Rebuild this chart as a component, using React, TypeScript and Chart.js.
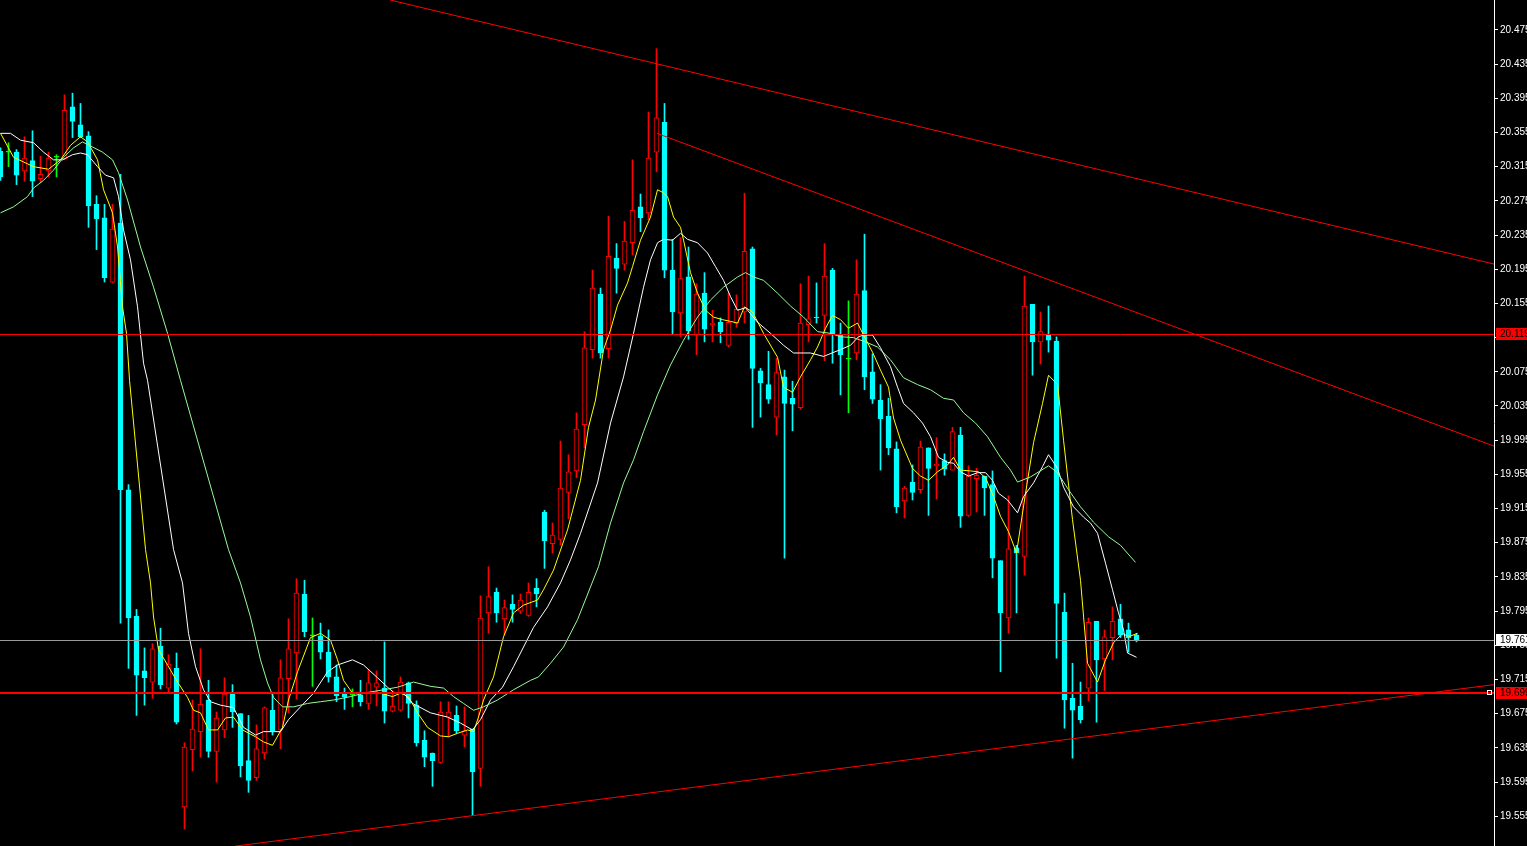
import React, { useEffect, useRef } from 'react';
import { Chart, registerables } from 'chart.js';

Chart.register(...registerables);

// ---- Candle data (bar index = position in array) ----
const opens = [
  20.333, 20.332, 20.332, 20.310, 20.322, 20.301, 20.310, 20.326, 20.324, 20.385,
  20.364, 20.351, 20.271, 20.255, 20.180, 20.249, 19.937, 19.789, 19.725, 19.712,
  19.754, 19.705, 19.728, 19.566, 19.633, 19.654, 19.691, 19.631, 19.656, 19.698,
  19.675, 19.620, 19.600, 19.629, 19.679, 19.656, 19.716, 19.746, 19.815, 19.766,
  19.766, 19.747, 19.718, 19.699, 19.697, 19.697, 19.687, 19.706, 19.705, 19.678,
  19.679, 19.711, 19.685, 19.644, 19.629, 19.618, 19.671, 19.673, 19.650, 19.657,
  19.611, 19.793, 19.817, 19.786, 19.803, 19.795, 19.790, 19.822, 19.911, 19.874,
  19.879, 19.934, 19.959, 20.013, 20.101, 20.166, 20.102, 20.208, 20.201, 20.226,
  20.268, 20.261, 20.332, 20.367, 20.194, 20.144, 20.186, 20.118, 20.167, 20.130,
  20.133, 20.106, 20.132, 20.145, 20.219, 20.076, 20.060, 20.022, 20.069, 20.044,
  20.033, 20.130, 20.139, 20.141, 20.194, 20.119, 20.090, 20.097, 20.170, 20.075,
  20.042, 20.023, 19.985, 19.924, 19.946, 19.937, 19.986, 19.965, 19.971, 19.960,
  20.001, 19.907, 19.950, 19.953, 19.943, 19.854, 19.787, 19.869, 19.859, 20.154,
  20.110, 20.119, 20.111, 19.794, 19.693, 19.684, 19.705, 19.783, 19.739, 19.764,
  19.786, 19.773, 19.767,
];
const highs = [
  20.337, 20.343, 20.335, 20.350, 20.357, 20.327, 20.332, 20.329, 20.399, 20.401,
  20.389, 20.356, 20.281, 20.271, 20.271, 20.306, 19.943, 19.797, 19.752, 19.757,
  19.775, 19.744, 19.746, 19.641, 19.691, 19.751, 19.714, 19.677, 19.717, 19.709,
  19.675, 19.673, 19.662, 19.683, 19.699, 19.738, 19.786, 19.833, 19.831, 19.787,
  19.781, 19.773, 19.732, 19.705, 19.704, 19.714, 19.727, 19.725, 19.759, 19.702,
  19.718, 19.712, 19.690, 19.655, 19.629, 19.689, 19.689, 19.684, 19.683, 19.657,
  19.813, 19.847, 19.822, 19.808, 19.814, 19.815, 19.828, 19.833, 19.913, 19.898,
  19.994, 19.978, 20.027, 20.122, 20.194, 20.173, 20.257, 20.225, 20.251, 20.323,
  20.283, 20.379, 20.453, 20.389, 20.230, 20.232, 20.221, 20.178, 20.191, 20.147,
  20.138, 20.167, 20.165, 20.284, 20.221, 20.079, 20.099, 20.091, 20.077, 20.064,
  20.178, 20.187, 20.179, 20.225, 20.196, 20.132, 20.158, 20.206, 20.236, 20.096,
  20.060, 20.044, 19.993, 19.941, 19.966, 19.994, 19.986, 19.998, 19.979, 20.010,
  20.010, 19.965, 19.962, 19.953, 19.959, 19.854, 19.930, 19.872, 20.187, 20.154,
  20.145, 20.152, 20.116, 19.816, 19.734, 19.712, 19.787, 19.783, 19.773, 19.800,
  19.803, 19.781, 19.769,
];
const lows = [
  20.299, 20.315, 20.294, 20.298, 20.280, 20.296, 20.303, 20.303, 20.323, 20.349,
  20.349, 20.244, 20.218, 20.180, 20.179, 19.781, 19.728, 19.673, 19.685, 19.693,
  19.704, 19.699, 19.663, 19.540, 19.608, 19.624, 19.624, 19.595, 19.647, 19.659,
  19.601, 19.583, 19.597, 19.622, 19.650, 19.634, 19.676, 19.692, 19.765, 19.707,
  19.739, 19.712, 19.689, 19.680, 19.683, 19.684, 19.680, 19.684, 19.664, 19.677,
  19.678, 19.670, 19.637, 19.613, 19.590, 19.617, 19.648, 19.652, 19.636, 19.556,
  19.590, 19.769, 19.782, 19.767, 19.782, 19.792, 19.789, 19.800, 19.845, 19.863,
  19.872, 19.903, 19.951, 19.986, 20.091, 20.091, 20.091, 20.167, 20.194, 20.212,
  20.239, 20.253, 20.309, 20.185, 20.119, 20.116, 20.113, 20.095, 20.110, 20.110,
  20.109, 20.104, 20.127, 20.132, 20.010, 20.022, 20.038, 20.001, 19.857, 20.006,
  20.031, 20.110, 20.132, 20.088, 20.085, 20.048, 20.027, 20.089, 20.054, 20.038,
  19.960, 19.978, 19.910, 19.904, 19.925, 19.933, 19.907, 19.926, 19.954, 19.960,
  19.893, 19.906, 19.911, 19.907, 19.834, 19.724, 19.769, 19.793, 19.837, 20.071,
  20.084, 20.098, 19.740, 19.658, 19.623, 19.664, 19.690, 19.665, 19.702, 19.738,
  19.764, 19.747, 19.759,
];
const closes = [
  20.303, 20.332, 20.305, 20.325, 20.298, 20.306, 20.325, 20.326, 20.381, 20.368,
  20.350, 20.269, 20.254, 20.185, 20.242, 19.937, 19.787, 19.720, 19.717, 19.751,
  19.709, 19.733, 19.665, 19.636, 19.657, 19.686, 19.631, 19.670, 19.698, 19.677,
  19.614, 19.597, 19.634, 19.682, 19.655, 19.717, 19.751, 19.816, 19.771, 19.766,
  19.747, 19.718, 19.696, 19.695, 19.697, 19.689, 19.711, 19.711, 19.678, 19.684,
  19.712, 19.687, 19.641, 19.624, 19.620, 19.677, 19.677, 19.655, 19.655, 19.607,
  19.787, 19.812, 19.793, 19.799, 19.797, 19.808, 19.817, 19.815, 19.877, 19.884,
  19.939, 19.958, 20.008, 20.103, 20.173, 20.097, 20.210, 20.196, 20.228, 20.264,
  20.255, 20.325, 20.372, 20.194, 20.145, 20.184, 20.123, 20.166, 20.125, 20.132,
  20.122, 20.133, 20.148, 20.216, 20.079, 20.062, 20.043, 20.074, 20.038, 20.037,
  20.132, 20.137, 20.138, 20.187, 20.119, 20.095, 20.090, 20.166, 20.069, 20.043,
  20.020, 19.986, 19.917, 19.939, 19.934, 19.987, 19.962, 19.967, 19.961, 20.005,
  19.906, 19.953, 19.954, 19.939, 19.857, 19.793, 19.868, 19.863, 20.152, 20.110,
  20.122, 20.112, 19.804, 19.691, 19.679, 19.668, 19.782, 19.738, 19.765, 19.783,
  19.767, 19.764, 19.761,
];

// ---- Indicator lines: [bar index, price] read at their vertices ----
const yellowLine: [number, number][] = [
  [0, 20.354], [1.63, 20.326], [4.13, 20.315], [6, 20.312], [7.5, 20.323], [8.75, 20.34], [10, 20.35],
  [10.88, 20.344], [12.13, 20.323], [12.88, 20.288], [14, 20.261], [14.63, 20.221], [15.25, 20.151],
  [15.75, 20.12], [16.13, 20.065], [18.13, 19.867], [18.75, 19.828], [19.13, 19.788], [19.75, 19.75],
  [20.88, 19.732], [22.13, 19.712], [23.38, 19.694], [24.13, 19.679], [25, 19.676], [26, 19.656],
  [27.13, 19.656], [28.13, 19.67], [29.13, 19.671], [30.25, 19.656], [31.88, 19.648], [32.88, 19.642],
  [34, 19.638], [35.25, 19.659], [36, 19.691], [37.13, 19.724], [38.75, 19.764], [40, 19.769],
  [41.25, 19.761], [42.13, 19.738], [42.88, 19.714], [44, 19.699], [45.38, 19.699], [47.13, 19.7],
  [49, 19.695], [50, 19.699], [51, 19.695], [52.13, 19.676], [53.38, 19.659], [55, 19.649], [56, 19.648],
  [57.13, 19.652], [58.38, 19.656], [59.13, 19.654], [59.75, 19.671], [60.38, 19.691], [61.63, 19.718],
  [62.88, 19.765], [64.13, 19.793], [65.38, 19.802], [67.13, 19.808], [67.88, 19.82], [69.13, 19.843],
  [70.88, 19.89], [72.5, 19.948], [73.5, 20.01], [74.38, 20.042], [75.38, 20.101], [76.25, 20.124],
  [77.13, 20.153], [78.38, 20.179], [79, 20.198], [80, 20.229], [81.25, 20.256], [82.13, 20.288],
  [82.75, 20.285], [83.38, 20.28], [84.13, 20.256], [85, 20.244], [85.38, 20.229], [86.25, 20.191],
  [87.13, 20.167], [88.13, 20.147], [89.13, 20.139], [90.25, 20.136], [91.25, 20.134], [92.13, 20.132],
  [93, 20.151], [94, 20.145], [95.38, 20.12], [97.13, 20.092], [97.88, 20.057], [99, 20.051],
  [100, 20.069], [101.25, 20.089], [102.13, 20.104], [103.13, 20.126], [104, 20.141], [105, 20.136],
  [106, 20.126], [107.13, 20.132], [107.88, 20.118], [109, 20.098], [110, 20.077], [111, 20.057],
  [111.63, 20.021], [112.5, 19.995], [114, 19.962], [115, 19.953], [116, 19.948], [117.13, 19.958],
  [118.38, 19.966], [119.13, 19.975], [120, 19.96], [121.25, 19.959], [122.25, 19.958], [123.13, 19.951],
  [124.13, 19.929], [125, 19.906], [126, 19.888], [127, 19.863], [128.13, 19.933], [129.13, 19.992],
  [130.25, 20.038], [131, 20.071], [132.13, 20.06], [132.88, 19.995], [134, 19.902], [135, 19.831],
  [135.88, 19.734], [137.13, 19.712], [138.13, 19.738], [139.13, 19.758], [140.25, 19.769], [141, 19.765],
  [142.13, 19.769],
];
const whiteLine: [number, number][] = [
  [0, 20.354], [1.25, 20.354], [2.5, 20.346], [4.13, 20.343], [5.38, 20.332], [6.63, 20.323], [7.75, 20.323],
  [9, 20.329], [10, 20.331], [10.88, 20.329], [12.13, 20.315], [13.13, 20.305], [14.13, 20.302],
  [14.75, 20.28], [15.38, 20.241], [16.25, 20.206], [17.13, 20.151], [17.88, 20.085], [18.38, 20.065],
  [21.63, 19.867], [22.75, 19.828], [23.5, 19.769], [24.38, 19.73], [25.38, 19.703], [26.25, 19.689],
  [27.5, 19.685], [29.13, 19.682], [30.38, 19.659], [31.88, 19.65], [32.88, 19.654], [35, 19.654],
  [36, 19.668], [37.5, 19.683], [39.13, 19.699], [40.88, 19.724], [42.13, 19.732], [44, 19.738],
  [45.38, 19.732], [47.13, 19.717], [48.38, 19.706], [49.13, 19.7], [50.38, 19.699], [51.5, 19.687],
  [53.75, 19.676], [55.88, 19.671], [57.5, 19.664], [59, 19.656], [60, 19.668], [61.25, 19.691],
  [62.75, 19.706], [64.13, 19.73], [65.38, 19.753], [66.63, 19.776], [68.38, 19.8], [70, 19.828],
  [71.25, 19.855], [72.5, 19.886], [74.63, 19.945], [76.25, 20.015], [77.88, 20.069], [79.13, 20.12],
  [80.38, 20.174], [81.25, 20.206], [82.13, 20.226], [82.88, 20.23], [84, 20.229], [85, 20.237],
  [85.88, 20.23], [87.13, 20.226], [88.38, 20.214], [89.38, 20.198], [90.38, 20.182], [91.25, 20.163],
  [92.13, 20.147], [93.13, 20.15], [94.63, 20.133], [96.25, 20.12], [97.88, 20.106], [99.13, 20.097],
  [101.25, 20.097], [102.88, 20.093], [105, 20.101], [106.25, 20.106], [107.25, 20.116], [107.88, 20.118],
  [109, 20.118], [110, 20.103], [111.25, 20.081], [112.13, 20.057], [112.88, 20.038], [114.13, 20.027],
  [115.25, 20.015], [116.25, 19.999], [117.25, 19.975], [118.38, 19.969], [119.13, 19.968], [120, 19.958],
  [121, 19.953], [122.13, 19.957], [123.13, 19.957], [124, 19.948], [124.75, 19.933], [125.88, 19.925],
  [127.13, 19.91], [127.88, 19.929], [129.13, 19.945], [130.25, 19.964], [131, 19.978], [132.13, 19.962],
  [132.88, 19.94], [134.13, 19.917], [135.38, 19.905], [136.25, 19.898], [137.13, 19.886], [138.13, 19.851],
  [139, 19.82], [139.75, 19.793], [140.38, 19.773], [140.88, 19.746], [142, 19.741],
];
const greenLine: [number, number][] = [
  [0, 20.261], [1.63, 20.268], [3.38, 20.28], [4.13, 20.29], [5.38, 20.299], [6.63, 20.311], [7.88, 20.326],
  [9.13, 20.337], [10.25, 20.344], [11.5, 20.338], [12.75, 20.332], [14, 20.323], [14.75, 20.308],
  [15.88, 20.276], [17.5, 20.221], [19.13, 20.174], [20.88, 20.12], [22.5, 20.065], [28.5, 19.867],
  [30, 19.828], [31.25, 19.788], [32.5, 19.738], [33.38, 19.711], [34.13, 19.694], [35.25, 19.683],
  [36.63, 19.683], [38.38, 19.687], [40, 19.689], [41.63, 19.691], [43.75, 19.695], [45.38, 19.699],
  [47.88, 19.703], [49.63, 19.706], [51.63, 19.712], [53.75, 19.707], [55.38, 19.705], [56.63, 19.695],
  [57.88, 19.687], [59.13, 19.679], [60.38, 19.683], [62.13, 19.691], [64.13, 19.703], [66.25, 19.714],
  [67.25, 19.718], [68.75, 19.734], [70.38, 19.753], [72.13, 19.785], [74.75, 19.847], [76.25, 19.898],
  [77.88, 19.945], [79.13, 19.972], [80.38, 20.005], [82.13, 20.048], [83.75, 20.083], [85.38, 20.112],
  [87.13, 20.139], [88.75, 20.159], [90.38, 20.174], [92.13, 20.186], [93.13, 20.191], [94.13, 20.186],
  [95.38, 20.182], [97.13, 20.167], [98.75, 20.152], [100.38, 20.139], [102.13, 20.122], [103.75, 20.12],
  [105, 20.116], [106.63, 20.115], [108.38, 20.109], [109.63, 20.104], [111.25, 20.089], [112.88, 20.068],
  [114.63, 20.06], [116.25, 20.054], [117.88, 20.044], [119.13, 20.042], [120.38, 20.027], [121.88, 20.015],
  [123.38, 19.999], [125, 19.975], [126.25, 19.96], [127.13, 19.946], [128.75, 19.952], [131, 19.965],
  [132.13, 19.957], [133.5, 19.937], [135, 19.917], [136.63, 19.899], [138.5, 19.882], [140, 19.872],
  [141.88, 19.852],
];

// ---- Trend lines: two end points each, [bar index, price] ----
const trendLines: [number, number][][] = [
  [[48.7, 20.51], [186.7, 20.201]],
  [[82.06, 20.354], [186.7, 19.988]],
  [[29.3, 19.52], [186.7, 19.709]],
];

// ---- Horizontal price levels and price-axis ticks ----
const levelPrices = [20.119, 19.761, 19.699];
const yTickValues = [
  20.475, 20.435, 20.395, 20.355, 20.315, 20.275, 20.235, 20.195, 20.155, 20.115, 20.075, 20.035,
  19.995, 19.955, 19.915, 19.875, 19.835, 19.795, 19.755, 19.715, 19.675, 19.635, 19.595, 19.555,
];

// ---- Styles ----
const UP = '#ff0000';
const DOWN = '#00ffff';
const DOJI = '#00ff00';
const levelStyles = [
  { line: '#ff0000', width: 1, box: '#ff0000', text: '#000000' },
  { line: '#9a9a9a', width: 1, box: '#ffffff', text: '#000000' },
  { line: '#ff0000', width: 2, box: '#ff0000', text: '#000000' },
];
const W = 1527;
const H = 846;
const Y_MIN = 19.5202;
const Y_MAX = 20.51;
const X_MIN = -0.0625;
const X_MAX = 186.6875;

function candleColor(i: number) {
  if (closes[i] > opens[i]) return UP;
  if (closes[i] < opens[i]) return DOWN;
  return DOJI;
}

const overlayPlugin = {
  id: 'overlay',
  beforeDraw(chart: any) {
    const ctx = chart.ctx;
    ctx.save();
    ctx.fillStyle = '#000000';
    ctx.fillRect(0, 0, chart.width, chart.height);
    ctx.restore();
  },
  afterDatasetsDraw(chart: any) {
    const { ctx, chartArea } = chart;
    const ys = chart.scales.y;
    ctx.save();
    levelPrices.forEach((v, i) => {
      const st = levelStyles[i];
      let py = Math.round(ys.getPixelForValue(v));
      if (st.width % 2 === 1) py += 0.5;
      ctx.strokeStyle = st.line;
      ctx.lineWidth = st.width;
      ctx.beginPath();
      ctx.moveTo(chartArea.left, py);
      ctx.lineTo(chartArea.right, py);
      ctx.stroke();
    });
    // small marker at right end of the last level line
    const pyl = Math.round(ys.getPixelForValue(levelPrices[2]));
    ctx.strokeStyle = '#ffffff';
    ctx.lineWidth = 1;
    ctx.strokeRect(chartArea.right - 6.5, pyl - 2.5, 4, 4);
    ctx.restore();
  },
  afterDraw(chart: any) {
    const { ctx, chartArea } = chart;
    const ys = chart.scales.y;
    ctx.save();
    ctx.font = '10px "Liberation Sans", Arial, sans-serif';
    ctx.textBaseline = 'middle';
    ctx.textAlign = 'left';
    levelPrices.forEach((v, i) => {
      const st = levelStyles[i];
      const py = Math.round(ys.getPixelForValue(v));
      ctx.fillStyle = st.box;
      ctx.fillRect(chartArea.right + 2, py - 6, W - chartArea.right - 2, 12);
      ctx.fillStyle = st.text;
      ctx.fillText(v.toFixed(3), chartArea.right + 6, py + 0.5);
    });
    ctx.restore();
  },
};

export default function App() {
  const canvasRef = useRef<HTMLCanvasElement | null>(null);

  useEffect(() => {
    const canvas = canvasRef.current;
    if (!canvas) return;
    const idx = opens.map((_, i) => i);
    const colors = idx.map(candleColor);

    const chart = new Chart(canvas, {
      type: 'bar',
      data: {
        datasets: [
          ...trendLines.map((pts) => ({
            type: 'line' as const,
            data: pts.map(([x, y]) => ({ x, y })),
            borderColor: '#ff0000',
            borderWidth: 1,
            pointRadius: 0,
            tension: 0,
            fill: false,
            order: 0,
          })),
          {
            type: 'line' as const,
            data: greenLine.map(([x, y]) => ({ x, y })),
            borderColor: '#98fb98',
            borderWidth: 1,
            pointRadius: 0,
            tension: 0,
            fill: false,
            order: 1,
          },
          {
            type: 'line' as const,
            data: whiteLine.map(([x, y]) => ({ x, y })),
            borderColor: '#ffffff',
            borderWidth: 1,
            pointRadius: 0,
            tension: 0,
            fill: false,
            order: 1,
          },
          {
            type: 'line' as const,
            data: yellowLine.map(([x, y]) => ({ x, y })),
            borderColor: '#ffff00',
            borderWidth: 1,
            pointRadius: 0,
            tension: 0,
            fill: false,
            order: 1,
          },
          {
            type: 'bar' as const,
            data: idx.map((i) => ({ x: i, y: [opens[i], closes[i]] })),
            backgroundColor: colors.map((c) => (c === UP ? '#000000' : c)),
            borderColor: colors,
            borderWidth: 1,
            borderSkipped: false,
            barThickness: 5,
            minBarLength: 1,
            grouped: false,
            order: 2,
          },
          {
            type: 'bar' as const,
            data: idx.map((i) => ({ x: i, y: [lows[i], highs[i]] })),
            backgroundColor: colors,
            borderWidth: 0,
            barThickness: 1,
            grouped: false,
            order: 3,
          },
        ] as any,
      },
      options: {
        animation: false,
        responsive: false,
        devicePixelRatio: 1,
        events: [],
        layout: { padding: 0 },
        plugins: {
          legend: { display: false },
          tooltip: { enabled: false },
        },
        scales: {
          x: {
            type: 'linear',
            display: false,
            min: X_MIN,
            max: X_MAX,
            offset: false,
          },
          y: {
            type: 'linear',
            position: 'right',
            min: Y_MIN,
            max: Y_MAX,
            afterBuildTicks: (s: any) => {
              s.ticks = yTickValues.map((v) => ({ value: v }));
            },
            afterFit: (s: any) => {
              s.width = 33;
              s.paddingTop = 0;
              s.paddingBottom = 0;
            },
            ticks: {
              autoSkip: false,
              color: '#ffffff',
              padding: 2,
              font: { family: '"Liberation Sans", Arial, sans-serif', size: 10 },
              callback: (v: any) => Number(v).toFixed(3),
            },
            grid: {
              display: true,
              drawOnChartArea: false,
              drawTicks: true,
              tickLength: 4,
              color: '#ffffff',
            },
            border: { display: true, color: '#ffffff', width: 1 },
          },
        },
      } as any,
      plugins: [overlayPlugin],
    });

    return () => chart.destroy();
  }, []);

  return (
    <div style={{ position: 'fixed', left: 0, top: 0, width: W, height: H, background: '#000' }}>
      <canvas ref={canvasRef} width={W} height={H} style={{ display: 'block', width: W, height: H }} />
    </div>
  );
}
